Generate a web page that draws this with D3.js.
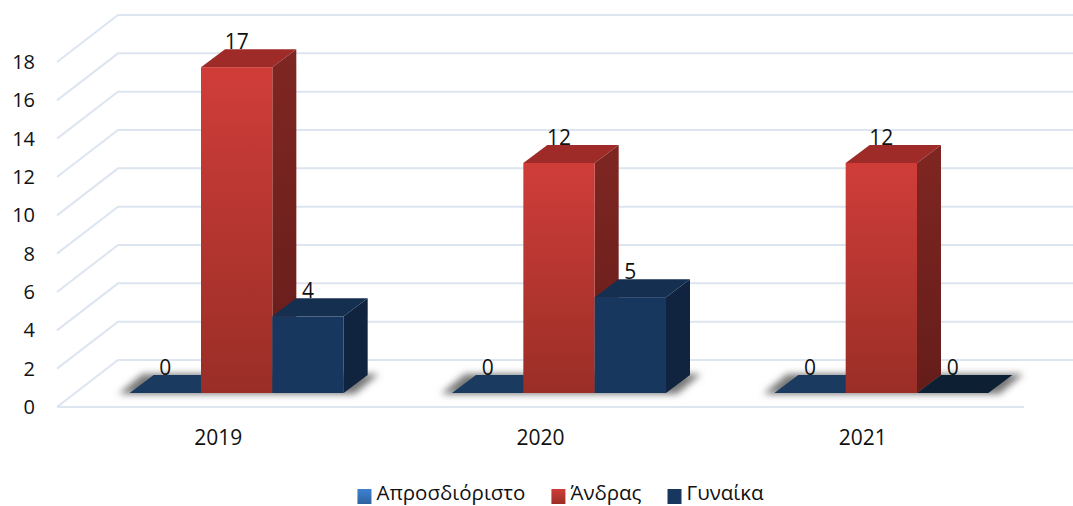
<!DOCTYPE html>
<html>
<head>
<meta charset="utf-8">
<script src="https://cdn.jsdelivr.net/npm/d3@7"></script>
<style>
	html, body { margin: 0; background: #fff; }
	svg { display: block; }
	text { font-family: "Open Sans", "Noto Sans", sans-serif; fill: #111; }
	.domain, .tick line { display: none; }
</style>
</head>
<body>
<svg id="chart" width="1073" height="506"></svg>
<script>
const years = ["2019", "2020", "2021"];
const seriesNames = ["Απροσδιόριστο", "Άνδρας", "Γυναίκα"];
const unknownValues = [0, 0, 0];
const maleValues = [17, 12, 12];
const femaleValues = [4, 5, 0];
const yTicks = [0, 2, 4, 6, 8, 10, 12, 14, 16, 18];

const seriesValues = [unknownValues, maleValues, femaleValues];
const seriesKeys = ["blue", "red", "navy"];

const WIDTH = 1073;
const BAR_BASE = 393;
const BAR_DX = 24;
const BAR_DY = 18;
const SHADOW_SPREAD = 11;

const svg = d3.select("#chart");
const defs = svg.append("defs");

function addGradient(id, top, bottom) {
	const g = defs.append("linearGradient")
		.attr("id", id)
		.attr("x1", 0).attr("y1", 0)
		.attr("x2", 0).attr("y2", 1);
	g.append("stop").attr("offset", 0).attr("stop-color", top);
	g.append("stop").attr("offset", 1).attr("stop-color", bottom);
}
addGradient("front-red", "#d03d39", "#9a2e27");
addGradient("side-red", "#7f2622", "#651d1a");
addGradient("front-navy", "#17375e", "#17375e");
addGradient("legend-blue", "#3f82d2", "#2e639f");
addGradient("legend-red", "#d03d39", "#9a2e27");

defs.append("filter")
	.attr("id", "soft")
	.attr("x", "-20%").attr("y", "-60%")
	.attr("width", "140%").attr("height", "220%")
	.append("feGaussianBlur")
	.attr("stdDeviation", 3.5);

const faces = {
	blue: {front: "#1b3d66", top: "#1b3a60", side: "#10243f"},
	red: {front: "url(#front-red)", top: "#9e2b28", side: "url(#side-red)"},
	navy: {front: "url(#front-navy)", top: "#142f50", side: "#10243f"}
};

// three height scales for the same axis: front wall edge, back wall, bar front plane
const yFront = d3.scaleLinear().domain([0, 18]).range([407, 62]);
const yBack = d3.scaleLinear().domain([0, 18]).range([360, 15]);
const yBar = d3.scaleLinear().domain([0, 18]).range([BAR_BASE, BAR_BASE - 345]);

const xLabel = d3.scaleBand().domain(years).range([57, 1024]);
const xGroup = d3.scaleBand().domain(years).range([75.5, 1042.5]);
const xBar = d3.scaleBand().domain(d3.range(3))
	.range([-107, 107]);

// wall grid
const gridLayer = svg.append("g").attr("fill", "none").attr("stroke", "#dde5f0").attr("stroke-width", 2);
gridLayer.selectAll("path")
	.data(yTicks)
	.join("path")
	.attr("d", d => `M${57},${yFront(d)}L${118},${yBack(d)}H${WIDTH}`);
gridLayer.append("line")
	.attr("x1", 57).attr("x2", 1024)
	.attr("y1", yFront(0)).attr("y2", yFront(0));

// axes
svg.append("g")
	.attr("transform", "translate(44,0)")
	.call(d3.axisLeft(yFront).tickValues(yTicks).tickSize(0).tickPadding(9))
	.call(g => g.selectAll("text").style("font-size", "20px").attr("dy", "0.32em"));

svg.append("g")
	.attr("transform", "translate(0,430)")
	.call(d3.axisBottom(xLabel).tickSize(0).tickPadding(0))
	.call(g => g.selectAll("text").style("font-size", "21px"));

// floor shadow under every group
svg.append("g")
	.attr("filter", "url(#soft)")
	.selectAll("path")
	.data(years)
	.join("path")
	.attr("fill", "#777")
	.attr("d", y => {
		const cx = xGroup(y) + xGroup.bandwidth() / 2;
		const x0 = cx + xBar(0) - SHADOW_SPREAD;
		const x1 = cx + xBar(2) + xBar.bandwidth() + SHADOW_SPREAD;
		return `M${x0},${BAR_BASE + 1}H${x1}L${x1 + BAR_DX},${BAR_BASE - BAR_DY - 1}H${x0 + BAR_DX}Z`;
	});

const groups = svg.append("g")
	.selectAll("g")
	.data(years)
	.join("g")
	.attr("transform", y => `translate(${xGroup(y) + xGroup.bandwidth() / 2},0)`);

const bars = groups.selectAll("g")
	.data((y, yi) => seriesValues.map((vals, si) => ({si, value: vals[yi]})))
	.join("g");

const w = xBar.bandwidth();

// back face first so a zero bar is just its floor
bars.append("path")
	.attr("fill", d => d.value === 0 && d.si === 2 ? "#0c1f33" : faces[seriesKeys[d.si]].top)
	.attr("d", d => {
		const x = xBar(d.si), y = yBar(d.value);
		return `M${x},${y}L${x + BAR_DX},${y - BAR_DY}H${x + w + BAR_DX}L${x + w},${y}Z`;
	});
bars.append("path")
	.attr("fill", d => faces[seriesKeys[d.si]].side)
	.attr("d", d => {
		const x = xBar(d.si) + w, y = yBar(d.value);
		return `M${x},${y}L${x + BAR_DX},${y - BAR_DY}V${BAR_BASE - BAR_DY}L${x},${BAR_BASE}Z`;
	});
bars.append("rect")
	.attr("x", d => xBar(d.si))
	.attr("y", d => yBar(d.value))
	.attr("width", w)
	.attr("height", d => BAR_BASE - yBar(d.value))
	.attr("fill", d => faces[seriesKeys[d.si]].front);

// value labels go on top of everything
groups.selectAll("text.value")
	.data((y, yi) => seriesValues.map((vals, si) => ({si, value: vals[yi]})))
	.join("text")
	.attr("class", "value")
	.attr("x", d => xBar(d.si) + w / 2)
	.attr("y", d => yBar(d.value) - BAR_DY)
	.attr("text-anchor", "middle")
	.style("font-size", "21px")
	.text(d => d.value);

// legend
const legendFills = ["url(#legend-blue)", "url(#legend-red)", "#17375e"];
const legend = svg.append("g");
let cursor = 0;
seriesNames.forEach((name, i) => {
	const item = legend.append("g").attr("transform", `translate(${cursor},0)`);
	item.append("rect")
		.attr("y", 489).attr("width", 14).attr("height", 15)
		.attr("fill", legendFills[i]);
	const label = item.append("text")
		.attr("x", 19).attr("y", 500)
		.style("font-size", "20.5px")
		.text(name);
	cursor += 19 + label.node().getComputedTextLength() + 26;
});
legend.attr("transform", `translate(${560.5 - (cursor - 26) / 2},0)`);
</script>
</body>
</html>
